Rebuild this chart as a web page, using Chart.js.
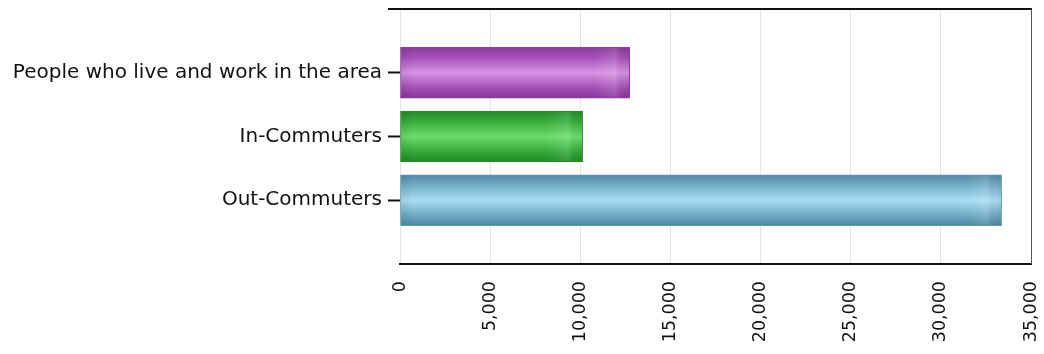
<!DOCTYPE html>
<html>
<head>
<meta charset="utf-8">
<script src="https://cdn.jsdelivr.net/npm/chart.js@4/dist/chart.umd.min.js"></script>
<style>
  html, body { margin: 0; padding: 0; background: #fff; }
  #wrap { width: 1044px; height: 354px; position: relative; }
</style>
</head>
<body>
<div id="wrap"><canvas id="chart" width="1044" height="354"></canvas></div>
<script>
// Commuting flows for the area
const categories = ['People who live and work in the area', 'In-Commuters', 'Out-Commuters'];
const workers = [12740, 10130, 33370];
const xTickMin = 0;
const xTickMax = 35000;
const xTickStep = 5000;

// Per-bar shading: [edge, mid-edge, highlight, mid-edge, edge, outline]
const barShades = [
  ['#8c3a9e', '#a24cb5', '#d892e3', '#a04ab3', '#86369a', '#8a3d9c'],
  ['#1f8c26', '#33a838', '#6cdc6c', '#31a536', '#1e8a25', '#2a8a2e'],
  ['#4f88a2', '#6ea9c3', '#aadef4', '#6aa5bf', '#4d869f', '#5f97ad']
];

// Empty slots above and below keep the bars in the middle bands of the axis
const labels = [''].concat(categories, ['']);
const values = [null].concat(workers, [null]);
const BAR_THICKNESS = 51;

function barFill(ctx) {
  const shades = barShades[ctx.dataIndex - 1];
  if (!shades) return 'transparent';
  const chart = ctx.chart;
  if (!chart.chartArea || !chart.scales.y) return shades[2];
  const yc = chart.scales.y.getPixelForValue(ctx.dataIndex);
  const h = BAR_THICKNESS / 2;
  const g = chart.ctx.createLinearGradient(0, yc - h, 0, yc + h);
  g.addColorStop(0, shades[0]);
  g.addColorStop(0.18, shades[1]);
  g.addColorStop(0.5, shades[2]);
  g.addColorStop(0.82, shades[3]);
  g.addColorStop(1, shades[4]);
  return g;
}

function barOutline(ctx) {
  const shades = barShades[ctx.dataIndex - 1];
  return shades ? shades[5] : 'transparent';
}

// Darker ends and a soft glint near the tip of each bar
const barEnds = {
  id: 'barEnds',
  afterDatasetsDraw(chart) {
    const c = chart.ctx;
    const meta = chart.getDatasetMeta(0);
    meta.data.forEach((bar, i) => {
      if (values[i] == null) return;
      const p = bar.getProps(['x', 'y', 'base', 'height'], true);
      const x0 = p.base, x1 = p.x;
      const w = x1 - x0;
      if (w <= 0) return;
      const g = c.createLinearGradient(x0, 0, x1, 0);
      const edge = Math.min(12 / w, 0.2);
      g.addColorStop(0, 'rgba(0,0,0,0.08)');
      g.addColorStop(edge, 'rgba(0,0,0,0)');
      g.addColorStop(1 - edge * 3, 'rgba(255,255,255,0)');
      g.addColorStop(1 - edge * 1.2, 'rgba(255,255,255,0.12)');
      g.addColorStop(1 - edge * 0.4, 'rgba(0,0,0,0.02)');
      g.addColorStop(1, 'rgba(0,0,0,0.08)');
      c.save();
      c.fillStyle = g;
      c.fillRect(x0 + 1, p.y - p.height / 2 + 1, w - 2, p.height - 2);
      c.restore();
    });
  }
};

// Frame: heavy top rule and a thin right edge
const frame = {
  id: 'frame',
  afterDraw(chart) {
    const a = chart.chartArea;
    const c = chart.ctx;
    c.save();
    c.strokeStyle = '#111';
    c.lineWidth = 2;
    c.beginPath();
    c.moveTo(a.left - 12, a.top);
    c.lineTo(a.right + 1, a.top);
    c.stroke();
    c.strokeStyle = '#555';
    c.lineWidth = 1;
    c.beginPath();
    c.moveTo(a.right + 0.5, a.top);
    c.lineTo(a.right + 0.5, a.bottom);
    c.stroke();
    c.restore();
  }
};

function noLabelPadding(s) {
  s.paddingLeft = 0;
  s.paddingRight = 0;
  s.paddingTop = 0;
  s.paddingBottom = 0;
}

new Chart(document.getElementById('chart'), {
  type: 'bar',
  data: {
    labels: labels,
    datasets: [{
      data: values,
      backgroundColor: barFill,
      borderColor: barOutline,
      borderWidth: 1,
      borderSkipped: false,
      barThickness: BAR_THICKNESS
    }]
  },
  options: {
    indexAxis: 'y',
    responsive: false,
    animation: false,
    layout: { padding: { top: 9, right: 13, bottom: 0, left: 0 } },
    plugins: {
      legend: { display: false },
      tooltip: { enabled: false }
    },
    scales: {
      x: {
        type: 'linear',
        min: xTickMin,
        max: xTickMax,
        ticks: {
          stepSize: xTickStep,
          minRotation: 90,
          maxRotation: 90,
          padding: 17,
          color: '#111',
          font: { family: 'DejaVu Sans', size: 17.5 },
          callback: v => v.toLocaleString('en-US')
        },
        grid: {
          color: '#e4e4e8',
          lineWidth: 1,
          drawTicks: false
        },
        border: { display: true, color: '#111', width: 2 },
        afterFit: s => { s.height = 90; noLabelPadding(s); }
      },
      y: {
        type: 'category',
        offset: false,
        ticks: {
          padding: 6,
          color: '#111',
          autoSkip: false,
          font: { family: 'DejaVu Sans', size: 20 }
        },
        grid: {
          offset: false,
          drawOnChartArea: false,
          drawTicks: true,
          tickLength: 12,
          tickWidth: 2,
          tickColor: ctx => (ctx.index === labels.length - 1 || ctx.index === 0) ? 'transparent' : '#111'
        },
        border: { display: false },
        afterFit: s => { s.width = 400; noLabelPadding(s); }
      }
    }
  },
  plugins: [barEnds, frame]
});
</script>
</body>
</html>
